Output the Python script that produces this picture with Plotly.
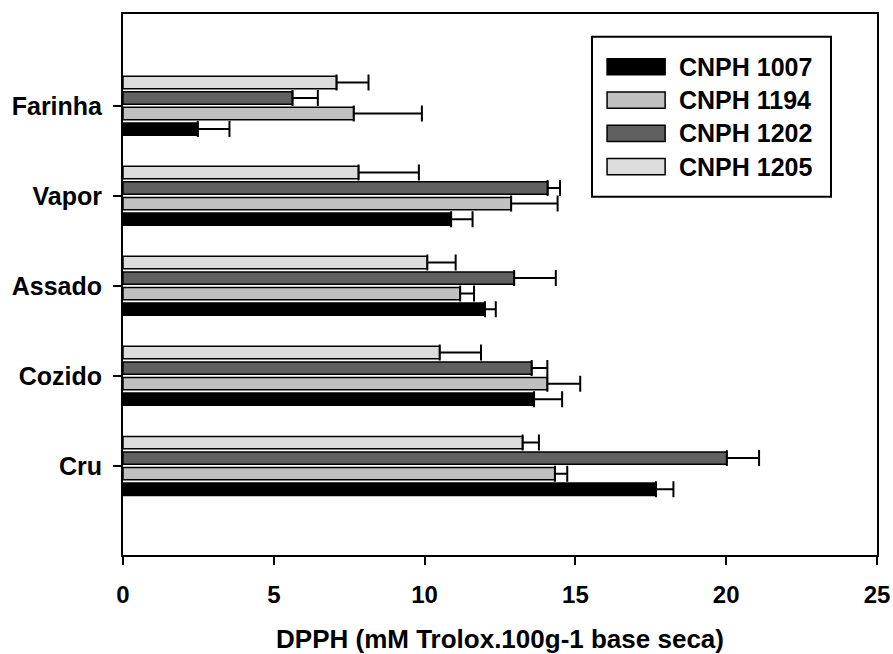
import plotly.graph_objects as go

categories = ["Cru", "Cozido", "Assado", "Vapor", "Farinha"]
series_names = ["CNPH 1007", "CNPH 1194", "CNPH 1202", "CNPH 1205"]

v1007 = [17.67, 13.63, 12.00, 10.88, 2.48]
e1007 = [0.58, 0.93, 0.36, 0.71, 1.05]
v1194 = [14.32, 14.07, 11.18, 12.87, 7.65]
e1194 = [0.41, 1.09, 0.46, 1.54, 2.26]
v1202 = [20.02, 13.55, 12.97, 14.08, 5.62]
e1202 = [1.07, 0.52, 1.38, 0.41, 0.84]
v1205 = [13.25, 10.50, 10.09, 7.81, 7.08]
e1205 = [0.54, 1.37, 0.94, 2.00, 1.06]

x_ticks = [0, 5, 10, 15, 20, 25]
x_title = "DPPH (mM Trolox.100g-1 base seca)"

values = [v1007, v1194, v1202, v1205]
errors = [e1007, e1194, e1202, e1205]
colors = ["#000000", "#c0c0c0", "#606060", "#dcdcdc"]

FONT = "Liberation Sans, Arial, sans-serif"

fig = go.Figure()
for name, v, e, c in zip(series_names, values, errors, colors):
    fig.add_trace(go.Bar(
        y=categories, x=v, name=name, orientation="h",
        marker=dict(color=c, line=dict(color="#000000", width=1.5)),
        error_x=dict(type="data", symmetric=False, array=e, arrayminus=[0] * len(e),
                     color="#000000", thickness=2, width=8),
        showlegend=False,
    ))

# custom legend (wide swatches like the original)
lx0, lx1, ly0, ly1 = 0.622, 0.939, 0.662, 0.958
fig.add_shape(type="rect", xref="paper", yref="paper", x0=lx0, x1=lx1, y0=ly0, y1=ly1,
              line=dict(color="#000000", width=2), fillcolor="rgba(0,0,0,0)")
row_y = [0.9025, 0.841, 0.7795, 0.718]
sw_h = 0.0150
for name, c, yy in zip(series_names, colors, row_y):
    fig.add_shape(type="rect", xref="paper", yref="paper",
                  x0=0.642, x1=0.719, y0=yy - sw_h, y1=yy + sw_h,
                  line=dict(color="#000000", width=1.5), fillcolor=c)
    fig.add_annotation(x=0.735, y=yy, xref="paper", yref="paper", text=name,
                       showarrow=False, xanchor="left", yanchor="middle",
                       font=dict(family=FONT, size=25, color="#000000", weight="bold"))

fig.update_layout(
    width=893, height=654,
    margin=dict(l=123, r=16, t=14, b=99, autoexpand=False),
    paper_bgcolor="#ffffff", plot_bgcolor="#ffffff",
    barmode="group", bargap=0.31, bargroupgap=0.2,
    font=dict(family=FONT, size=24, color="#000000", weight="bold"),
    xaxis=dict(
        range=[0, 25], tickvals=x_ticks, ticktext=[str(t) for t in x_ticks],
        showgrid=False, zeroline=False, automargin=False,
        showline=True, linecolor="#000000", linewidth=2, mirror=True,
        ticks="outside", ticklen=8, tickwidth=2, tickcolor="#000000",
        tickfont=dict(family=FONT, size=24, color="#000000", weight="bold"),
        ticklabelstandoff=9,
        title=dict(text=x_title, standoff=23,
                   font=dict(family=FONT, size=26, color="#000000", weight="bold")),
    ),
    yaxis=dict(
        type="category", categoryorder="array", categoryarray=categories,
        range=[-0.99, 5.02], automargin=False,
        showgrid=False, zeroline=False,
        showline=True, linecolor="#000000", linewidth=2, mirror=True,
        ticks="outside", ticklen=8, tickwidth=2, tickcolor="#000000",
        tickfont=dict(family=FONT, size=25, color="#000000", weight="bold"),
        ticklabelstandoff=6,
    ),
)

fig.write_html("out.html")
